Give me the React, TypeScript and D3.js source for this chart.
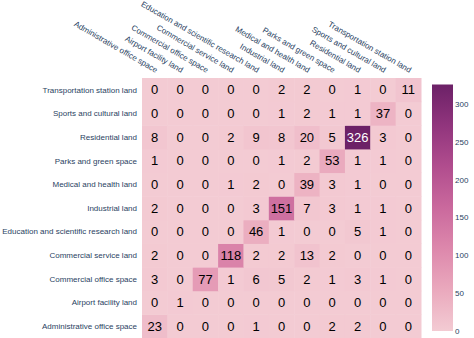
import React from 'react';
import * as d3 from 'd3';

// column order (x) and row order (y, bottom to top as plotted)
const categories = [
  'Administrative office space',
  'Airport facility land',
  'Commercial office space',
  'Commercial service land',
  'Education and scientific research land',
  'Industrial land',
  'Medical and health land',
  'Parks and green space',
  'Residential land',
  'Sports and cultural land',
  'Transportation station land',
];

// rows listed in the same order as categories (bottom row first)
const adminRow = [23, 0, 0, 0, 1, 0, 0, 2, 2, 0, 0];
const airportRow = [0, 1, 0, 0, 0, 0, 0, 0, 0, 0, 0];
const comOfficeRow = [3, 0, 77, 1, 6, 5, 2, 1, 3, 1, 0];
const comServiceRow = [2, 0, 0, 118, 2, 2, 13, 2, 0, 0, 0];
const educationRow = [0, 0, 0, 0, 46, 1, 0, 0, 5, 1, 0];
const industrialRow = [2, 0, 0, 0, 3, 151, 7, 3, 1, 1, 0];
const medicalRow = [0, 0, 0, 1, 2, 0, 39, 3, 1, 0, 0];
const parksRow = [1, 0, 0, 0, 0, 1, 2, 53, 1, 1, 0];
const residentialRow = [8, 0, 0, 2, 9, 8, 20, 5, 326, 3, 0];
const sportsRow = [0, 0, 0, 0, 0, 1, 2, 1, 1, 37, 0];
const transportRow = [0, 0, 0, 0, 0, 2, 2, 0, 1, 0, 11];

const matrix = [
  adminRow, airportRow, comOfficeRow, comServiceRow, educationRow, industrialRow,
  medicalRow, parksRow, residentialRow, sportsRow, transportRow,
];

const colorbarTicks = [0, 50, 100, 150, 200, 250, 300];
const magenta = ['#f3cbd3', '#eaa9bd', '#dd88ac', '#ca699d', '#b14d8e', '#91357d', '#6c2167'];

const W = 474;
const H = 338;
const plot = { left: 142, right: 421, top: 78, bottom: 338 };
const bar = { x: 432, w: 21, top: 84.5, bottom: 331 };
const FONT = '"Liberation Sans", Arial, sans-serif';
const labelColor = '#2a3f5f';

export default function App() {
  const maxV = d3.max(matrix.flat()) as number;
  const minV = 0;
  const color = d3
    .scaleLinear<string>()
    .domain(magenta.map((_, i) => minV + (i / (magenta.length - 1)) * (maxV - minV)))
    .range(magenta)
    .interpolate(d3.interpolateRgb);

  const x = d3.scaleBand<string>().domain(categories).range([plot.left, plot.right]);
  const y = d3.scaleBand<string>().domain(categories).range([plot.bottom, plot.top]);
  const cScale = d3.scaleLinear().domain([minV, maxV]).range([bar.bottom, bar.top]);

  const textColor = (v: number) => {
    const c = d3.hsl(color(v));
    return c.l < 0.45 ? '#ffffff' : '#000000';
  };

  const gradStops = magenta.map((c, i) => ({ off: (i / (magenta.length - 1)) * 100, c }));

  return (
    <svg width={W} height={H} style={{ position: 'absolute', left: 0, top: 0 }} fontFamily={FONT}>
      <defs>
        <linearGradient id="cb" x1="0" y1="1" x2="0" y2="0">
          {gradStops.map((s) => (
            <stop key={s.off} offset={`${s.off}%`} stopColor={s.c} />
          ))}
        </linearGradient>
      </defs>
      <rect width={W} height={H} fill="#fff" />

      {matrix.map((row, ri) =>
        row.map((v, ci) => (
          <rect
            key={`c-${ri}-${ci}`}
            x={x(categories[ci])}
            y={y(categories[ri])}
            width={x.bandwidth() + 0.5}
            height={y.bandwidth() + 0.5}
            fill={color(v)}
          />
        ))
      )}

      {matrix.map((row, ri) =>
        row.map((v, ci) => (
          <text
            key={`t-${ri}-${ci}`}
            x={(x(categories[ci]) as number) + x.bandwidth() / 2}
            y={(y(categories[ri]) as number) + y.bandwidth() / 2}
            dy="0.36em"
            textAnchor="middle"
            fontSize={13}
            fill={textColor(v)}
          >
            {v}
          </text>
        ))
      )}

      {/* y axis labels */}
      {categories.map((c) => (
        <text
          key={`y-${c}`}
          x={plot.left - 5}
          y={(y(c) as number) + y.bandwidth() / 2}
          dy="0.35em"
          textAnchor="end"
          fontSize={8}
          fill={labelColor}
        >
          {c}
        </text>
      ))}

      {/* x axis labels, rotated */}
      {categories.map((c) => (
        <text
          key={`x-${c}`}
          transform={`translate(${(x(c) as number) + x.bandwidth() / 2 + 1},${plot.top - 5}) rotate(30)`}
          textAnchor="end"
          fontSize={8}
          fill={labelColor}
        >
          {c}
        </text>
      ))}

      {/* colorbar */}
      <rect x={bar.x} y={bar.top} width={bar.w} height={bar.bottom - bar.top} fill="url(#cb)" />
      {colorbarTicks.map((t) => (
        <text key={`cb-${t}`} x={bar.x + bar.w + 2} y={cScale(t)} dy="0.35em" fontSize={8} fill={labelColor}>
          {t}
        </text>
      ))}
    </svg>
  );
}
